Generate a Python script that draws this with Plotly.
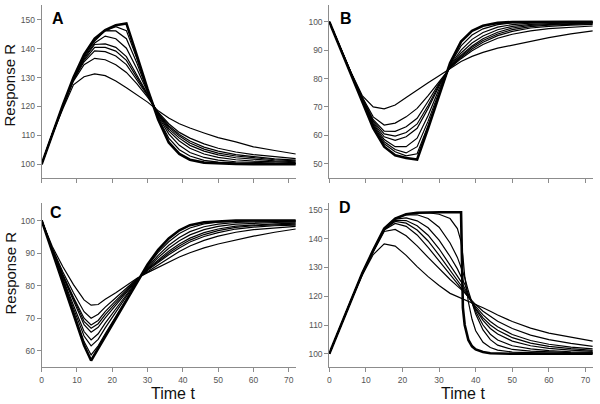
import plotly.graph_objects as go

# ---------------- data ----------------
T_AB = [0, 3, 6, 9, 12, 15, 18, 21, 24, 27, 30, 33, 36, 39, 42, 46, 50, 55, 60, 66, 72]
T_C = [0, 3, 6, 9, 12, 14, 16, 18, 21, 24, 27, 30, 33, 36, 39, 42, 46, 50, 55, 60, 66, 72]
T_D = [0, 3, 6, 9, 12, 15, 18, 21, 24, 27, 30, 33, 35, 36, 36.5, 37, 38, 39, 40, 42, 44, 46, 50, 55, 60, 66, 72]

# first curve of every panel is the thick one
A_CURVES = [
    [100, 110.5, 120.5, 130, 138, 143.5, 146.5, 148.2, 148.8, 137.5, 126, 115.5, 107.5, 103.5, 101.5, 100.5, 100.2, 100.05, 100, 100, 100],
    [100, 110.5, 120.5, 130, 137.8, 143.2, 146.3, 147.7, 146.3, 136.5, 125.7, 116, 109, 105, 102.8, 101.3, 100.7, 100.4, 100.2, 100.1, 100.05],
    [100, 110.5, 120.4, 129.9, 137.5, 142.7, 146.3, 146.2, 143.5, 135, 125.3, 116.5, 110.5, 106.5, 104, 102.3, 101.4, 100.8, 100.5, 100.3, 100.2],
    [100, 110.5, 120.3, 129.8, 137, 142, 144.4, 143.5, 140.2, 133, 124.8, 117, 111.5, 108, 105.5, 103.5, 102.3, 101.5, 101, 100.7, 100.5],
    [100, 110.5, 120.2, 129.6, 136.5, 141.5, 141.7, 140.5, 137.3, 131, 124.3, 117.3, 112.2, 109, 106.5, 104.5, 103.2, 102.2, 101.6, 101.1, 100.8],
    [100, 110.5, 120.1, 129.4, 136, 140.5, 140.5, 139.2, 136, 130.2, 124, 117.5, 112.8, 109.7, 107.3, 105.2, 103.8, 102.8, 102.1, 101.5, 101.1],
    [100, 110.5, 120, 129.2, 135.5, 139.3, 139, 137.5, 134.5, 129.3, 123.7, 117.7, 113.3, 110.3, 108, 105.9, 104.5, 103.3, 102.5, 101.8, 101.4],
    [100, 110.4, 119.8, 128.8, 134.5, 136.7, 136.2, 134.5, 131.8, 127.8, 123.2, 118, 114, 111, 109, 107, 105.5, 104.2, 103.3, 102.5, 101.9],
    [100, 110.2, 119.2, 127.5, 130.3, 131.3, 130.7, 128.8, 126.5, 124, 121.5, 118.5, 116, 114, 112.5, 110.8, 109.2, 107.7, 106, 104.7, 103.5],
]

B_CURVES = [
    [100, 90.5, 81.5, 72, 62.5, 56, 53, 52, 51.5, 62.5, 74, 85.5, 93, 96.8, 98.6, 99.6, 99.9, 100, 100, 100, 100],
    [100, 90.5, 81.5, 72.2, 63, 57, 54.2, 52.8, 53.5, 63.5, 74.5, 85, 91.5, 95.3, 97.5, 99, 99.6, 99.85, 99.9, 99.95, 99.95],
    [100, 90.5, 81.6, 72.4, 63.5, 57.7, 55, 53.8, 56, 65, 75.3, 84.7, 90, 93.8, 96.2, 98.1, 99, 99.5, 99.7, 99.8, 99.85],
    [100, 90.6, 81.6, 72.6, 64, 58.5, 56, 56, 59, 67, 76.3, 84.4, 89, 92.5, 95, 97.2, 98.4, 99.1, 99.4, 99.6, 99.7],
    [100, 90.6, 81.7, 72.8, 64.5, 59.5, 58.2, 59.5, 62.5, 69.5, 77.3, 84.2, 88.2, 91.5, 94, 96.3, 97.8, 98.7, 99.1, 99.35, 99.5],
    [100, 90.6, 81.7, 73, 65, 60.5, 59.7, 61, 64, 70.5, 77.8, 84, 87.8, 91, 93.4, 95.7, 97.2, 98.3, 98.8, 99.1, 99.3],
    [100, 90.7, 81.8, 73.2, 65.5, 61.5, 61.4, 63, 66, 72, 78.3, 83.9, 87.4, 90.4, 92.8, 95.1, 96.6, 97.8, 98.4, 98.8, 99.1],
    [100, 90.7, 81.9, 73.5, 66.5, 63.6, 64.3, 66.5, 69.5, 74, 79, 83.7, 87, 89.8, 92, 94.2, 95.6, 96.8, 97.6, 98.1, 98.5],
    [100, 90.8, 82, 74, 70, 69.3, 70.7, 73.3, 76, 78.5, 81, 83.5, 86, 87.8, 89.2, 90.7, 91.8, 93.2, 94.4, 95.7, 96.8],
]

C_CURVES = [
    [100, 90.5, 81, 71.3, 61.7, 57, 60.7, 64.4, 70, 75.6, 81.1, 86.5, 91, 94.5, 97, 98.6, 99.5, 99.8, 100, 100, 100, 100],
    [100, 90.6, 81.3, 72, 62.8, 58.7, 61.5, 65.2, 70.6, 75.9, 81.2, 86.1, 90.2, 93.5, 96, 97.7, 99, 99.5, 99.8, 99.9, 99.9, 99.95],
    [100, 90.7, 81.8, 73, 64.5, 61.5, 63.5, 67, 72, 76.7, 81.4, 85.7, 89.3, 92.4, 94.8, 96.6, 98.1, 98.9, 99.4, 99.6, 99.7, 99.8],
    [100, 90.8, 82.2, 74, 65.9, 63.3, 65.2, 68.5, 73, 77.2, 81.6, 85.4, 88.6, 91.5, 93.8, 95.6, 97.2, 98.2, 98.9, 99.2, 99.4, 99.5],
    [100, 91, 82.8, 75.2, 68, 65.7, 67.2, 70.1, 74.1, 77.8, 81.8, 85.1, 87.9, 90.6, 92.8, 94.6, 96.3, 97.4, 98.3, 98.7, 99, 99.2],
    [100, 91.1, 83.1, 75.8, 69, 66.9, 68.3, 71.1, 74.8, 78.3, 81.9, 84.9, 87.5, 90, 92.2, 94, 95.7, 96.9, 97.9, 98.4, 98.7, 98.9],
    [100, 91.2, 83.4, 76.4, 70, 67.9, 69.3, 72, 75.4, 78.6, 81.9, 84.7, 87.1, 89.5, 91.6, 93.4, 95.1, 96.3, 97.4, 98, 98.4, 98.6],
    [100, 91.5, 84.2, 77.8, 72, 70, 71.2, 73.4, 76.3, 79.2, 82.1, 84.3, 86.4, 88.6, 90.5, 92.2, 93.9, 95.2, 96.4, 97.2, 97.8, 98.2],
    [100, 92, 85.8, 80.3, 75.6, 74, 74.2, 75.8, 77.8, 80, 82.3, 84, 85.6, 87.3, 88.8, 90.1, 91.6, 92.8, 94.1, 95.2, 96.4, 97.4],
]

D_CURVES = [
    [100, 109.5, 119, 128, 136, 143.5, 147, 148.5, 149, 149.2, 149.2, 149.2, 149.2, 149.2, 116, 110, 104.8, 102.6, 101.5, 100.6, 100.2, 100.1, 100, 100, 100, 100, 100],
    [100, 109.5, 119, 128, 136, 143.5, 147, 148.5, 149, 149, 148.5, 147, 143.5, 139, 134, 127, 118, 112, 108, 104, 102.2, 101.3, 100.6, 100.3, 100.2, 100.1, 100.1],
    [100, 109.5, 119, 128, 136, 143.5, 147, 148.3, 148.3, 147, 144, 138.5, 133.5, 130.3, 128.5, 126.5, 121.8, 117.5, 113.8, 108.3, 104.9, 103, 101.5, 100.9, 100.6, 100.4, 100.3],
    [100, 109.5, 119, 128, 136, 143.4, 146.8, 147.2, 146.2, 143.8, 139.5, 133.8, 129.5, 127, 125.6, 124.2, 120.8, 117.6, 114.7, 110, 106.8, 104.8, 102.8, 101.7, 101.1, 100.7, 100.5],
    [100, 109.5, 119, 127.9, 135.9, 143.3, 146.4, 146.3, 144.5, 141.2, 136.5, 131, 127.2, 125.1, 124, 122.8, 120.2, 117.7, 115.4, 111.6, 108.8, 106.9, 104.4, 102.8, 101.9, 101.3, 100.8],
    [100, 109.5, 119, 127.9, 135.8, 143.2, 146, 145.4, 143, 139.2, 134.3, 129.2, 125.8, 124, 123, 122, 119.8, 117.7, 115.8, 112.5, 110, 108.2, 105.6, 103.7, 102.6, 101.8, 101.2],
    [100, 109.5, 118.9, 127.8, 135.7, 143, 145.3, 144.3, 141.3, 137, 132.3, 127.5, 124.5, 123, 122.2, 121.5, 119.7, 117.9, 116.3, 113.5, 111.2, 109.4, 106.7, 104.6, 103.3, 102.3, 101.7],
    [100, 109.5, 118.9, 127.7, 135.4, 142.5, 143.2, 141, 137.5, 133.5, 129.5, 125.8, 123.5, 122.4, 121.9, 121.3, 119.8, 118.4, 117.1, 114.8, 112.9, 111.3, 108.8, 106.5, 104.9, 103.6, 102.6],
    [100, 109.4, 118.7, 127.3, 134.5, 138.2, 137.4, 134.2, 130.3, 126.8, 123.7, 121, 119.9, 119.5, 119.2, 119, 118.4, 117.8, 117.2, 116, 114.8, 113.5, 111.2, 108.9, 107.2, 105.7, 104.4],
]

X_TICKS = [0, 10, 20, 30, 40, 50, 60, 70]
Y_TICKS_A = [100, 110, 120, 130, 140, 150]
Y_TICKS_B = [50, 60, 70, 80, 90, 100]
Y_TICKS_C = [60, 70, 80, 90, 100]
Y_TICKS_D = [100, 110, 120, 130, 140, 150]
PANEL_LABELS = ["A", "B", "C", "D"]
Y_TITLE = "Response R"
X_TITLE = "Time t"

# ---------------- figure ----------------
W, H = 600, 404
fig = go.Figure()

panels = [("x", "y", T_AB, A_CURVES), ("x2", "y2", T_AB, B_CURVES),
          ("x3", "y3", T_C, C_CURVES), ("x4", "y4", T_D, D_CURVES)]
for xa, ya, t, curves in panels:
    order = list(range(1, len(curves))) + [0]
    for i in order:
        fig.add_trace(go.Scatter(
            x=t, y=curves[i], mode="lines",
            line=dict(color="black", width=2.6 if i == 0 else 1.2),
            xaxis=xa, yaxis=ya, showlegend=False, hoverinfo="skip"))

FONT = "Arial, Liberation Sans, sans-serif"
common = dict(showgrid=False, zeroline=False, showline=True, linecolor="#8c8c8c",
              linewidth=1, ticks="outside", ticklen=4, tickcolor="#8c8c8c",
              tickfont=dict(family=FONT, size=8.5, color="#555555"), automargin=False)


def px_x(p):
    return min(max(p / W, 0), 1)


def px_y(p):
    return min(max(1 - p / H, 0), 1)


xdomL = [px_x(41.7), px_x(295.8)]
xdomR = [px_x(329.3), px_x(592.8)]
ydomT = [px_y(178.2), px_y(5)]
ydomB = [px_y(367.3), px_y(203)]

fig.update_layout(
    width=W, height=H, margin=dict(l=0, r=0, t=0, b=0, autoexpand=False),
    paper_bgcolor="white", plot_bgcolor="white",
    xaxis=dict(domain=xdomL, anchor="y", range=[0, 72], tickvals=X_TICKS, showticklabels=False, **common),
    yaxis=dict(domain=ydomT, anchor="x", range=[95.1, 155.2], tickvals=Y_TICKS_A, **common),
    xaxis2=dict(domain=xdomR, anchor="y2", range=[0, 72], tickvals=X_TICKS, showticklabels=False, **common),
    yaxis2=dict(domain=ydomT, anchor="x2", range=[44.9, 105.9], tickvals=Y_TICKS_B, **common),
    xaxis3=dict(domain=xdomL, anchor="y3", range=[0, 72], tickvals=X_TICKS, **common),
    yaxis3=dict(domain=ydomB, anchor="x3", range=[54.9, 105.4], tickvals=Y_TICKS_C, **common),
    xaxis4=dict(domain=xdomR, anchor="y4", range=[0, 72], tickvals=X_TICKS, **common),
    yaxis4=dict(domain=ydomB, anchor="x4", range=[95.3, 152.4], tickvals=Y_TICKS_D, **common),
)

ann = []
label_pos = [(57.5, 18), (345.5, 18.5), (56, 212), (344.5, 207)]
for lab, (px, py) in zip(PANEL_LABELS, label_pos):
    ann.append(dict(text="<b>%s</b>" % lab, x=px_x(px), y=px_y(py), xref="paper", yref="paper",
                    showarrow=False, xanchor="center", yanchor="middle",
                    font=dict(family=FONT, size=16, color="black")))
for py in (85, 273):
    ann.append(dict(text=Y_TITLE, x=px_x(9.5), y=px_y(py), xref="paper", yref="paper",
                    showarrow=False, textangle=-90, xanchor="center", yanchor="middle",
                    font=dict(family=FONT, size=15, color="#111111")))
for px in (172.7, 462.5):
    ann.append(dict(text=X_TITLE, x=px_x(px), y=px_y(393), xref="paper", yref="paper",
                    showarrow=False, xanchor="center", yanchor="middle",
                    font=dict(family=FONT, size=16, color="#111111")))
fig.update_layout(annotations=ann)

# remove the browser's default 8px body margin so the figure fills the window exactly
fig.write_html("out.html", config={"displayModeBar": False, "staticPlot": True},
               post_script="document.body.style.margin='0px';")
